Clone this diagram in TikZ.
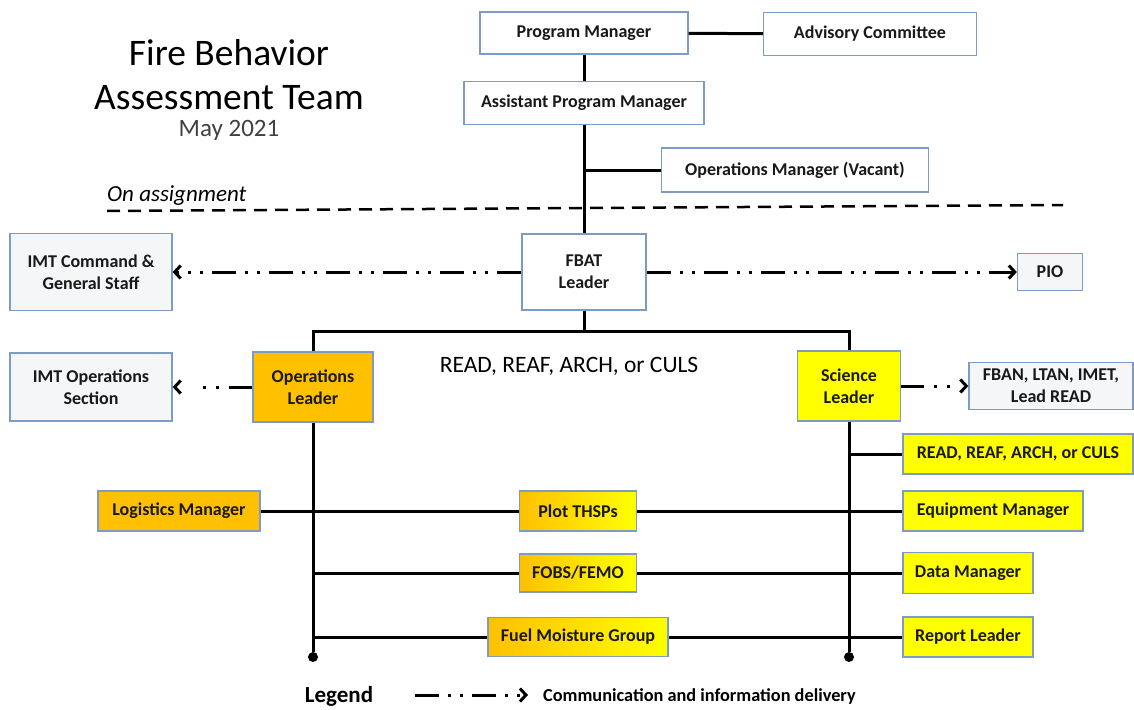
\documentclass[tikz,border=0pt]{standalone}
\usepackage{fontspec}
\setmainfont{Carlito}
\usepackage{tikz}
\usetikzlibrary{arrows.meta,positioning,calc}
\definecolor{boxline}{HTML}{7C9CC4}
\definecolor{boxgrey}{HTML}{F5F6F8}
\definecolor{leadorange}{HTML}{FFC000}
\definecolor{leadyellow}{HTML}{FFFF00}

\begin{document}
\begin{tikzpicture}[
  x=1pt, y=-1pt,
  box/.style={draw=boxline, fill=white, line width=1.3pt, inner sep=0pt,
              align=center, text=black!90, font=\bfseries\fontsize{18}{22}\selectfont},
  greybox/.style={box, fill=boxgrey},
  orangebox/.style={box, fill=leadorange},
  yellowbox/.style={box, fill=leadyellow},
  gradbox/.style={box, left color=leadorange, right color=leadyellow},
  link/.style={line width=3pt},
  comm/.style={line width=3pt, dash pattern=on 24pt off 9pt on 3pt off 9pt on 3pt off 9pt,
               -{Straight Barb[length=6pt,width=13pt]}},
  commshort/.style={comm, dash pattern=on 23pt off 10pt on 3pt off 10pt on 3pt off 40pt},
  enddot/.style={circle, fill=black, inner sep=0pt, minimum size=10pt}
]
\useasboundingbox (0,0) rectangle (1134,709);

\node[font=\fontsize{37.5}{44}\selectfont, align=center] (title) at (229,75) {Fire Behavior\\Assessment Team};
\node[font=\fontsize{25}{30}\selectfont, text=black!75] (date) at (229,130) {May 2021};
\node[font=\itshape\fontsize{23}{27}\selectfont, anchor=west, inner sep=0pt] (asg) at (107,196) {On assignment};
\coordinate (asgL) at (107,211);
\coordinate (asgR) at (1063,205);
\draw[line width=2.5pt, dash pattern=on 13pt off 8pt] (asgL) -- (asgR);

\node[box, minimum width=208pt, minimum height=42pt] (pm) at (584,33) {Program Manager};
\node[box, minimum width=213pt, minimum height=43pt] (adv) at (870,34) {Advisory Committee};
\node[box, minimum width=240pt, minimum height=43pt] (apm) at (584,103) {Assistant Program Manager};
\node[box, minimum width=267pt, minimum height=44pt] (opsm) at (795,170) {Operations Manager (Vacant)};
\node[box, minimum width=124pt, minimum height=76pt] (fbat) at (584,272) {FBAT\\Leader};
\node[greybox, minimum width=162pt, minimum height=77pt] (imtc) at (91,272) {IMT Command \&\\General Staff};
\node[greybox, minimum width=65pt, minimum height=37pt] (pio) at (1050,272) {PIO};

\coordinate (bar) at (584,331);
\node[orangebox, minimum width=120pt, minimum height=70pt] (opsl) at (313,387) {Operations\\Leader};
\node[yellowbox, minimum width=103pt, minimum height=70pt] (scil) at (849,386) {Science\\Leader};
\node[font=\fontsize{23.5}{27}\selectfont] (role) at (569,366) {READ, REAF, ARCH, or CULS};
\node[greybox, minimum width=162pt, minimum height=68pt] (imto) at (91,387) {IMT Operations\\Section};
\node[greybox, minimum width=164pt, minimum height=47pt] (fban) at (1051,386) {FBAN, LTAN, IMET,\\Lead READ};
\node[yellowbox, minimum width=230pt, minimum height=40pt] (readr) at (1018,454) {READ, REAF, ARCH, or CULS};

\node[orangebox, minimum width=162pt, minimum height=40pt] (logm) at (179,511) {Logistics Manager};
\node[gradbox, minimum width=117pt, minimum height=40pt] (plot) at (578,511) {Plot THSPs};
\node[gradbox, minimum width=117pt, minimum height=38pt] (fobs) at (578,573) {FOBS/FEMO};
\node[gradbox, minimum width=180pt, minimum height=39pt] (fuel) at (578,637) {Fuel Moisture Group};
\node[yellowbox, minimum width=180pt, minimum height=40pt] (equip) at (993,511) {Equipment Manager};
\node[yellowbox, minimum width=130pt, minimum height=41pt] (datam) at (968,573) {Data Manager};
\node[yellowbox, minimum width=130pt, minimum height=40pt] (report) at (968,637) {Report Leader};

\node[enddot] (ldot) at (313,657) {};
\node[enddot] (sdot) at (849,657) {};

\node[font=\bfseries\fontsize{23}{27}\selectfont] (legend) at (339,696) {Legend};
\coordinate (legA) at (415,695);
\coordinate (legB) at (528,695);
\node[font=\bfseries\fontsize{18.3}{22}\selectfont, anchor=west, inner sep=0pt] (legtext) at (543,696) {Communication and information delivery};

\draw[link] (pm) -- (adv);
\draw[link] (pm) -- (apm);
\draw[link] (apm) -- (fbat);
\draw[link] (apm |- opsm) -- (opsm);
\draw[link] (fbat) -- (bar);
\draw[link] (opsl) |- (bar) -| (scil);
\draw[comm] (fbat) -- (imtc);
\draw[comm] (fbat) -- (pio);
\draw[commshort] (opsl) -- (imto);
\draw[commshort] (scil) -- (fban);
\draw[link] (opsl) -- (ldot);
\draw[link] (scil) -- (sdot);
\draw[link] (sdot |- readr) -- (readr);
\draw[link] (logm) -- (plot) -- (equip);
\draw[link] (ldot |- fobs) -- (fobs) -- (datam);
\draw[link] (ldot |- fuel) -- (fuel) -- (report);
\draw[comm] (legA) -- (legB);
\end{tikzpicture}
\end{document}
